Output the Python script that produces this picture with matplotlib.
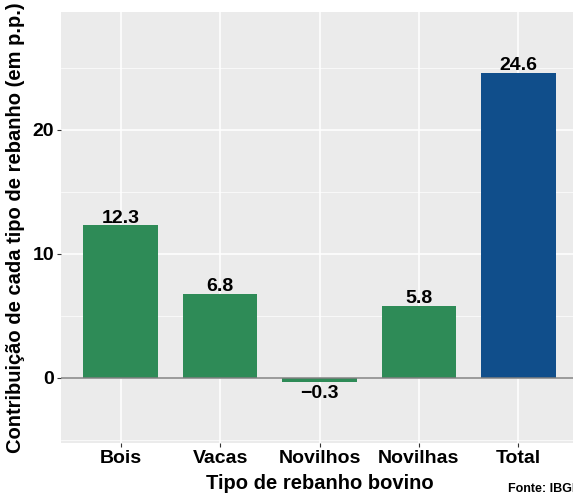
import matplotlib.pyplot as plt
from matplotlib.ticker import MultipleLocator

plt.rcParams['font.family'] = ['Liberation Sans', 'DejaVu Sans']
plt.rcParams['font.weight'] = 'bold'

categorias = ['Bois', 'Vacas', 'Novilhos', 'Novilhas', 'Total']
contribuicao = [12.3, 6.8, -0.3, 5.8, 24.6]
cores = ['#2E8B57', '#2E8B57', '#2E8B57', '#2E8B57', '#104E8B']
rotulos = ['12.3', '6.8', '\u22120.3', '5.8', '24.6']

W, H = 573, 496
fig = plt.figure(figsize=(W / 100, H / 100), dpi=100)
ax = fig.add_axes([61 / W, 1 - 443 / H, (578 - 61) / W, (443 - 12) / H])
ax.set_facecolor('#EBEBEB')

pos = list(range(1, len(categorias) + 1))
ax.bar(pos, contribuicao, width=0.75, color=cores, zorder=3)
ax.axhline(0, color='#808080', lw=1.1, zorder=4)

for x, v, t in zip(pos, contribuicao, rotulos):
    if v >= 0:
        ax.text(x, v + 0.2, t, ha='center', va='baseline', fontsize=14,
                fontweight='bold', zorder=5)
    else:
        ax.text(x, v - 0.25, t, ha='center', va='top', fontsize=14,
                fontweight='bold', zorder=5)

ax.set_xlim(0.4, 5.6)
ax.set_ylim(-5.25, 29.5)
ax.set_xticks(pos)
ax.set_xticklabels(categorias)
ax.yaxis.set_major_locator(MultipleLocator(10))
ax.yaxis.set_minor_locator(MultipleLocator(5))
ax.grid(which='major', color='white', lw=1.1, zorder=0)
ax.grid(which='minor', axis='y', color='white', lw=0.5, zorder=0)
ax.tick_params(which='major', length=3, color='#333333', labelsize=14, pad=2)
ax.tick_params(which='minor', length=0)
for lab in ax.get_xticklabels() + ax.get_yticklabels():
    lab.set_fontweight('bold')
for s in ax.spines.values():
    s.set_visible(False)

ax.set_xlabel('Tipo de rebanho bovino', fontsize=14.5, fontweight='bold', labelpad=5)
ax.set_ylabel('Contribuição de cada tipo de rebanho (em p.p.)', fontsize=14.5,
              fontweight='bold', labelpad=5)
fig.text(508 / W, 1 - 489 / H, 'Fonte: IBGE', fontsize=9, fontweight='bold',
         ha='left', va='center')

fig.savefig('out.png', dpi=100)
